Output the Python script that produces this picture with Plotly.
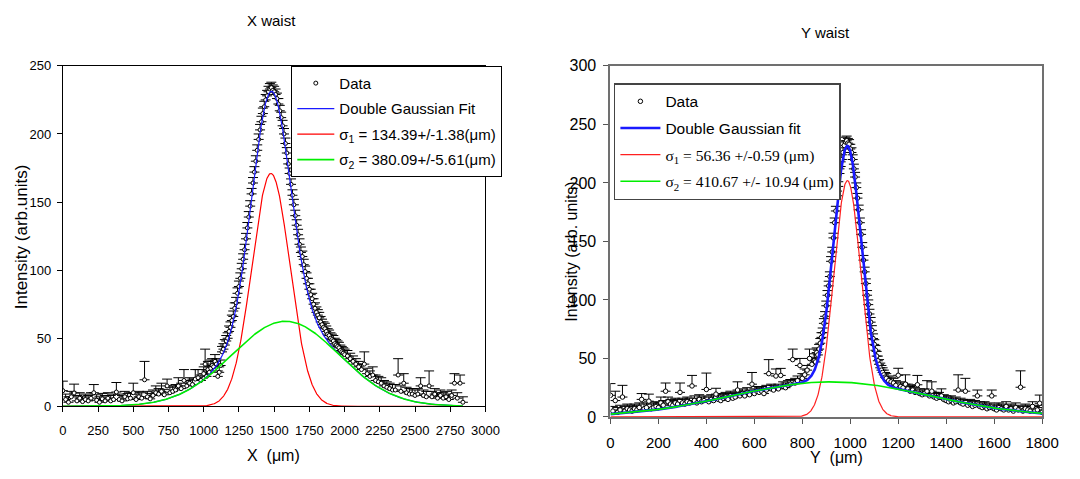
import numpy as np
import plotly.graph_objects as go

# ---------------- Left panel: X waist ----------------
xl_pos = list(range(0, 1000, 20)) + list(range(1000, 2010, 10)) + list(range(2020, 2860, 20))
xl_int = [11.5,5,3,7,9.8,4,6,3.5,5,4, 6,10,4.5,3,5.5,4,6,4,5,10.5,
          5,4,7,5.5,6,10,5,7,6,19.5, 7,5.5,8,10,9,11,8.5,15,10,11,
          12,15,13,19,15,17,16,20,21,19,
          24,31,22,27,25,28,30,29,33,31,
          22,25,30,40,42,45,48,50,55,58,
          63,66,72,76,83,88,94,101,108,115,
          123,131,139,147,156,164,172,180,188,196,
          203,209,215,220,225,228,231,233,234,232,
          231,229,226,222,217,212,206,200,193,186,
          178,171,163,155,148,140,133,126,119,113,
          110,104,99,94,90,86,82,79,75,72,
          69,67,65,62,60,58,57,55,53,52,
          50,49,48,46,45,44,43,41,40,39,
          38,
          37,35,33,31,29,27,31,24,22,23, 19,18,17,15,14,13,12,12,23,11,
          17,10,9,9,8,9,15,8,7,15, 7,9,6,8,6,7,5,8,17,6, 17,3]
xl_err = [7,4,4,4,6.5,4,4,4,4,4, 4,6,4,4,4,4,4,4,4,7,
          4,4,4,4,4,7,4,4,4,13.5, 4,4,4,5,4,6,4,5,4,4,
          4,6,4,8,4,4,4,7,6,4,
          5,11,4,6,4,6,5,4,5,4,
          4,4,4,4,4,4,4,4,4,4,
          4,4,4,4,4,4,4,4,4,4,
          4,4,4,4,4,4,4,4,4,4,
          4,4,4,4,4,4,4,4,4,4,
          4,4,4,4,4,4,4,4,4,4,
          4,4,4,4,4,4,4,4,4,4,
          4,4,4,4,4,4,4,4,4,4,
          4,4,4,4,4,4,4,4,4,4,
          4,4,4,4,4,4,4,4,4,4,
          4,
          4,4,4,4,4,4,9,4,4,6, 4,4,4,4,4,4,4,4,12,4,
          7,4,4,4,4,4,6,4,4,11, 4,4,4,4,4,4,4,4,7,4, 6,4]
xl_amp = [171.0, 62.5]
xl_cen = [1477.0, 1581.0]
xl_sig = [134.39, 380.09]
xl_fit_range = [0, 2840]

# ---------------- Right panel: Y waist ----------------
yr_pos = list(range(0, 850, 10)) + list(range(850, 1155, 5)) + list(range(1160, 1810, 10))
yr_int = [18.5,5,14,4,6,17,5,7,6,5,
          7,6,8,15,7,8,13.5,7,8,9,
          8,12,10,22,13,11,10,12,11,21,
          12,11,13,12,26.5,14,12,15,13,14,
          23.5,13,15,14,19.5,15,14,16,17,15,
          18,16,17,23,18,20,18,21,19,28,
          20,22,21,22,20,23,37,24,23,35,
          24,35.5,26,25,27,28,49,29,31,44,
          33,36,40,50,45,
          48,47,55,53,58,63,68,72,80,86,
          95,104,112,120,133,141,153,166,176,189,
          197,208,214,220,226,232,235,236,234,233,
          229,226,220,212,205,196,187,177,166,156,
          145,134,124,114,104,96,88,81,74,67,
          62,57,52,48,45,42,40,38,36,34,
          33,
          31,30,29,27,35.6,26,25,28,24,22,
          23,21,27.5,20,19,20,22,18,22,17,
          16,17,18,15,14,13,14,12,13,23,
          12,11,22,10,11,9,10,18,9,8,
          9,7,8,18,7,6,8,7,6,9,
          6,7,5,8,6,25.4,5,7,6,5,
          9,5,6,11.7,4]
yr_err = [10,4,8,4,4,10,4,4,4,4,
          4,4,4,5,4,4,6,4,4,4,
          4,5,4,7,4,4,4,4,4,8,
          4,4,4,4,9,4,4,4,4,4,
          14,4,4,4,5,4,4,4,4,4,
          4,4,4,7,4,4,4,4,4,10,
          4,4,4,4,4,4,12,4,4,6,
          4,6,4,4,4,4,9,4,4,6,
          4,5,4,8,5,
          6,4,4,4,4,4,4,4,4,4,
          4,4,4,4,4,4,4,4,4,4,
          4,4,4,4,4,4,4,4,4,4,
          4,4,4,4,4,4,4,4,4,4,
          4,4,4,4,4,4,4,4,4,4,
          4,4,4,4,4,4,4,4,4,4,
          4,
          4,4,4,4,6,4,4,8,4,4,
          4,4,8,4,4,4,9,4,8,4,
          4,4,6,4,4,4,4,4,4,13,
          4,4,11,4,4,4,4,5,4,4,
          4,4,4,5,4,4,4,4,4,4,
          4,4,4,4,4,14,4,4,4,4,
          4,4,4,7,4]
yr_amp = [202.0, 30.0]
yr_cen = [988.0, 920.0]
yr_sig = [56.36, 410.67]
yr_fit_range = [0, 1800]

legend_left = ["Data", "Double Gaussian Fit",
               "σ<sub>1</sub> = 134.39+/-1.38(μm)",
               "σ<sub>2</sub> = 380.09+/-5.61(μm)"]
SERIF = "'Liberation Serif', 'Times New Roman', serif"
legend_right = ["Data", "Double Gaussian fit",
                f"<span style=\"font-family:{SERIF}\">σ<sub>1</sub> = 56.36 +/-0.59 (μm)</span>",
                f"<span style=\"font-family:{SERIF}\">σ<sub>2</sub> = 410.67 +/- 10.94 (μm)</span>"]


def gauss(x, a, c, s):
    return a * np.exp(-(x - c) ** 2 / (2 * s ** 2))


W, H = 1080, 479
SANS = "'Liberation Sans', Arial, sans-serif"
fig = go.Figure()


def add_panel(xpos, yint, err, amp, cen, sig, frange, names, xa, ya, leg,
              msize, blue_w, red_col, tag):
    fig.add_trace(go.Scatter(
        x=xpos, y=yint, mode="markers", name=names[0], xaxis=xa, yaxis=ya, legend=leg,
        legendgroup=tag + "0",
        marker=dict(symbol="circle", size=msize, color="white",
                    line=dict(color="black", width=1)),
        error_y=dict(type="data", array=err, arrayminus=[0] * len(err), symmetric=False,
                     color="black", thickness=1, width=5)))
    xf = np.linspace(frange[0], frange[1], 1200)
    c1 = gauss(xf, amp[0], cen[0], sig[0])
    c2 = gauss(xf, amp[1], cen[1], sig[1])
    fig.add_trace(go.Scatter(x=xf, y=c1 + c2, mode="lines", name=names[1], xaxis=xa, yaxis=ya,
                             legend=leg, legendgroup=tag + "1",
                             line=dict(color="#1a1aff", width=blue_w)))
    fig.add_trace(go.Scatter(x=xf, y=c1, mode="lines", name=names[2], xaxis=xa, yaxis=ya,
                             legend=leg, legendgroup=tag + "2",
                             line=dict(color=red_col, width=1.2)))
    fig.add_trace(go.Scatter(x=xf, y=c2, mode="lines", name=names[3], xaxis=xa, yaxis=ya,
                             legend=leg, legendgroup=tag + "3",
                             line=dict(color="#00ee00", width=1.6)))


add_panel(xl_pos, xl_int, xl_err, xl_amp, xl_cen, xl_sig, xl_fit_range, legend_left,
          "x", "y", "legend", 4, 1.2, "#ff0000", "L")
add_panel(yr_pos, yr_int, yr_err, yr_amp, yr_cen, yr_sig, yr_fit_range, legend_right,
          "x2", "y2", "legend2", 4.5, 2.6, "#ff2020", "R")


def px(x):
    return x / W


def py(y):
    return 1 - y / H


fig.update_layout(
    width=W, height=H, margin=dict(l=0, r=0, t=0, b=0),
    paper_bgcolor="white", plot_bgcolor="white",
    font=dict(family=SANS, color="black", size=13),
    xaxis=dict(domain=[px(60), px(491)], range=[0, 3000], tickvals=list(range(0, 3001, 250)),
               showgrid=False, zeroline=False, showline=True, linecolor="black", linewidth=1,
               mirror=True, ticks="outside", ticklen=5, tickcolor="black",
               tickfont=dict(size=13), ticklabelstandoff=7),
    yaxis=dict(domain=[py(413), py(60)], range=[0, 250], tickvals=list(range(0, 251, 50)),
               showgrid=False, zeroline=False, showline=True, linecolor="black", linewidth=1,
               mirror=True, ticks="outside", ticklen=5, tickcolor="black",
               tickfont=dict(size=13), ticklabelstandoff=3),
    xaxis2=dict(domain=[px(618.5), px(1058.7)], range=[0, 1800], tickvals=list(range(0, 1801, 200)),
                showgrid=False, zeroline=False, showline=True, linecolor="#707070", linewidth=2,
                mirror=True, ticks="outside", ticklen=5, tickcolor="#555", anchor="y2",
                tickfont=dict(size=15), ticklabelstandoff=6),
    yaxis2=dict(domain=[py(424), py(60)], range=[0, 300], tickvals=list(range(0, 301, 50)),
                showgrid=False, zeroline=False, showline=True, linecolor="#707070", linewidth=2,
                mirror=True, ticks="outside", ticklen=5, tickcolor="#555", anchor="x2",
                tickfont=dict(size=16), ticklabelstandoff=4),
    legend=dict(x=px(293), y=py(60), xanchor="left", yanchor="top",
                bgcolor="white", bordercolor="black", borderwidth=1,
                font=dict(family=SANS, size=15), traceorder="grouped",
                tracegroupgap=3, itemwidth=37),
    legend2=dict(x=px(622), y=py(78), xanchor="left", yanchor="top",
                 bgcolor="white", bordercolor="#444", borderwidth=1.5,
                 font=dict(family=SANS, size=15.5), traceorder="grouped",
                 tracegroupgap=3.5, itemwidth=40),
    showlegend=True,
)

annots = [
    dict(text="X waist", x=px(273), y=py(13), size=15, angle=0),
    dict(text="Y waist", x=px(838), y=py(25), size=15, angle=0),
    dict(text="Intensity (arb.units)", x=px(18), y=py(237), size=17, angle=-90),
    dict(text="Intensity (arb. units)", x=px(578), y=py(252), size=16, angle=-90),
    dict(text="X\u00a0 (μm)", x=px(275), y=py(464), size=16, angle=0),
    dict(text="Y\u00a0 (μm)", x=px(849), y=py(466), size=16, angle=0),
]
for a in annots:
    fig.add_annotation(text=a["text"], x=a["x"], y=a["y"], xref="paper", yref="paper",
                       xanchor="center", yanchor="middle", showarrow=False,
                       textangle=a["angle"], font=dict(family=SANS, size=a["size"], color="black"))

fig.write_html("out.html")
